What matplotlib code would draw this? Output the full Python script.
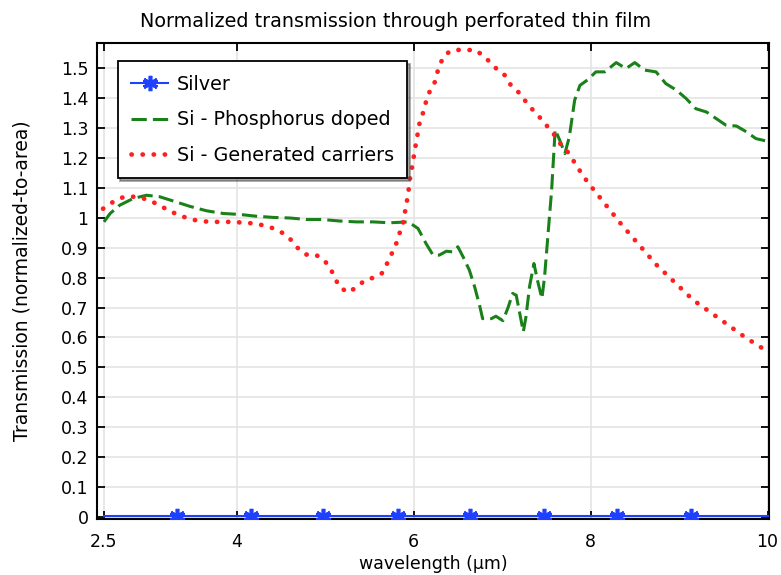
import matplotlib
matplotlib.use("Agg")
import matplotlib.pyplot as plt
from matplotlib.ticker import FuncFormatter

# --------------------------
# Data
# --------------------------
silver_wl = [2.5, 3.33, 4.16, 4.98, 5.82, 6.64, 7.47, 8.30, 9.13, 10.0]
silver_t = [0.003, 0.003, 0.003, 0.003, 0.003, 0.003, 0.003, 0.003, 0.003, 0.003]

phos_wl = [2.50, 2.57, 2.68, 2.83, 2.98, 3.13, 3.28, 3.47, 3.66, 3.85, 4.03, 4.22,
           4.41, 4.60, 4.79, 4.97, 5.16, 5.35, 5.54, 5.73, 5.94, 6.05, 6.14, 6.22,
           6.29, 6.37, 6.44, 6.50, 6.56, 6.63, 6.69, 6.75, 6.78, 6.88, 6.93, 7.01,
           7.07, 7.12, 7.16, 7.20, 7.24, 7.27, 7.31, 7.36, 7.40, 7.45, 7.48, 7.52,
           7.56, 7.60, 7.65, 7.71, 7.76, 7.82, 7.88, 7.97, 8.06, 8.16, 8.29, 8.40,
           8.50, 8.61, 8.74, 8.85, 8.97, 9.08, 9.19, 9.31, 9.42, 9.53, 9.65, 9.76,
           9.87, 9.99]
phos_t = [0.986, 1.014, 1.042, 1.064, 1.075, 1.070, 1.056, 1.038, 1.023, 1.014, 1.011, 1.005,
          1.001, 0.999, 0.994, 0.994, 0.989, 0.986, 0.986, 0.983, 0.986, 0.964, 0.914, 0.875,
          0.875, 0.888, 0.886, 0.903, 0.869, 0.825, 0.769, 0.702, 0.663, 0.663, 0.671, 0.656,
          0.702, 0.747, 0.741, 0.680, 0.619, 0.669, 0.769, 0.847, 0.791, 0.730, 0.802, 0.947,
          1.092, 1.294, 1.260, 1.214, 1.270, 1.392, 1.442, 1.461, 1.487, 1.487, 1.518, 1.498,
          1.518, 1.493, 1.487, 1.448, 1.426, 1.398, 1.364, 1.353, 1.331, 1.309, 1.306, 1.287,
          1.264, 1.256]

gen_wl = [2.49, 2.62, 2.73, 2.85, 2.94, 3.05, 3.16, 3.26, 3.37, 3.49, 3.61, 3.73,
          3.97, 4.08, 4.19, 4.31, 4.42, 4.52, 4.61, 4.69, 4.78, 4.89, 4.99, 5.06,
          5.11, 5.16, 5.26, 5.35, 5.45, 5.55, 5.65, 5.70, 5.75, 5.80, 5.84, 5.88,
          5.90, 5.92, 5.94, 5.95, 5.97, 5.99, 6.01, 6.03, 6.05, 6.07, 6.11, 6.14,
          6.18, 6.24, 6.27, 6.31, 6.37, 6.46, 6.59, 6.69, 6.78, 6.88, 6.95, 7.03,
          7.10, 7.20, 7.27, 7.35, 7.42, 7.50, 7.58, 7.67, 7.74, 7.84, 7.91, 7.98,
          8.35, 8.74, 9.16, 9.53, 9.74, 9.99]
gen_t = [1.030, 1.056, 1.070, 1.070, 1.065, 1.053, 1.036, 1.020, 1.006, 0.994, 0.988, 0.986,
         0.986, 0.983, 0.981, 0.974, 0.964, 0.949, 0.927, 0.899, 0.877, 0.877, 0.858, 0.830,
         0.800, 0.769, 0.750, 0.767, 0.791, 0.800, 0.816, 0.847, 0.878, 0.910, 0.947, 0.981,
         1.014, 1.049, 1.080, 1.114, 1.150, 1.180, 1.220, 1.253, 1.287, 1.320, 1.353, 1.387,
         1.420, 1.453, 1.487, 1.520, 1.548, 1.561, 1.559, 1.561, 1.543, 1.515, 1.493, 1.476,
         1.442, 1.415, 1.387, 1.359, 1.337, 1.309, 1.281, 1.242, 1.220, 1.175, 1.142, 1.114,
         0.977, 0.844, 0.725, 0.647, 0.602, 0.555]

x_ticks = [2.5, 4, 6, 8, 10]
y_ticks = [0, 0.1, 0.2, 0.3, 0.4, 0.5, 0.6, 0.7, 0.8, 0.9, 1, 1.1, 1.2, 1.3, 1.4, 1.5]

# --------------------------
# Figure
# --------------------------
plt.rcParams['font.family'] = ['DejaVu Sans']
fig = plt.figure(figsize=(7.81, 5.75), dpi=100)
ax = fig.add_axes([0.124, 0.097, 0.861, 0.828])

ax.plot(silver_wl, silver_t, color='#2040ff', lw=1.5, marker=(6, 2, 0),
        markersize=11, markeredgewidth=2.6, markevery=slice(1, -1), label='Silver',
        zorder=3)
ax.plot(phos_wl, phos_t, color='#1a801a', lw=2.2, linestyle=(0, (5, 2)),
        label='Si - Phosphorus doped')
ax.plot(gen_wl, gen_t, color='#ff1f1f', lw=3.4, linestyle=(0, (0.05, 2.3)),
        dash_capstyle='round', label='Si - Generated carriers')

ax.set_xlim(2.42, 10.02)
ax.set_ylim(-0.007, 1.583)
ax.set_xticks(x_ticks)
ax.set_yticks(y_ticks)
ax.xaxis.set_major_formatter(FuncFormatter(lambda v, p: '%g' % v))
ax.yaxis.set_major_formatter(FuncFormatter(lambda v, p: '%g' % v))
ax.tick_params(direction='in', length=6, width=1.3, top=True, right=True,
               labelsize=12.5, colors='black')
ax.tick_params(axis='x', pad=10)
ax.tick_params(axis='y', pad=6)
ax.grid(True, color='#e4e4e4', lw=1.2)
ax.set_axisbelow(True)
for s in ax.spines.values():
    s.set_linewidth(1.5)

ax.set_xlabel('wavelength (µm)', fontsize=12.5, labelpad=3)
ax.set_ylabel('Transmission (normalized-to-area)', fontsize=13.5, labelpad=21)
fig.text(0.506, 0.962, 'Normalized transmission through perforated thin film',
         ha='center', va='center', fontsize=13.8)

leg = ax.legend(loc='upper left', bbox_to_anchor=(0.031, 0.962), fontsize=13.8,
                fancybox=False, shadow=True, framealpha=1, edgecolor='black',
                handlelength=1.9, handletextpad=0.45, labelspacing=0.85,
                borderpad=0.72, borderaxespad=0)
leg.get_frame().set_linewidth(1.3)

fig.savefig('out.png', dpi=100)
